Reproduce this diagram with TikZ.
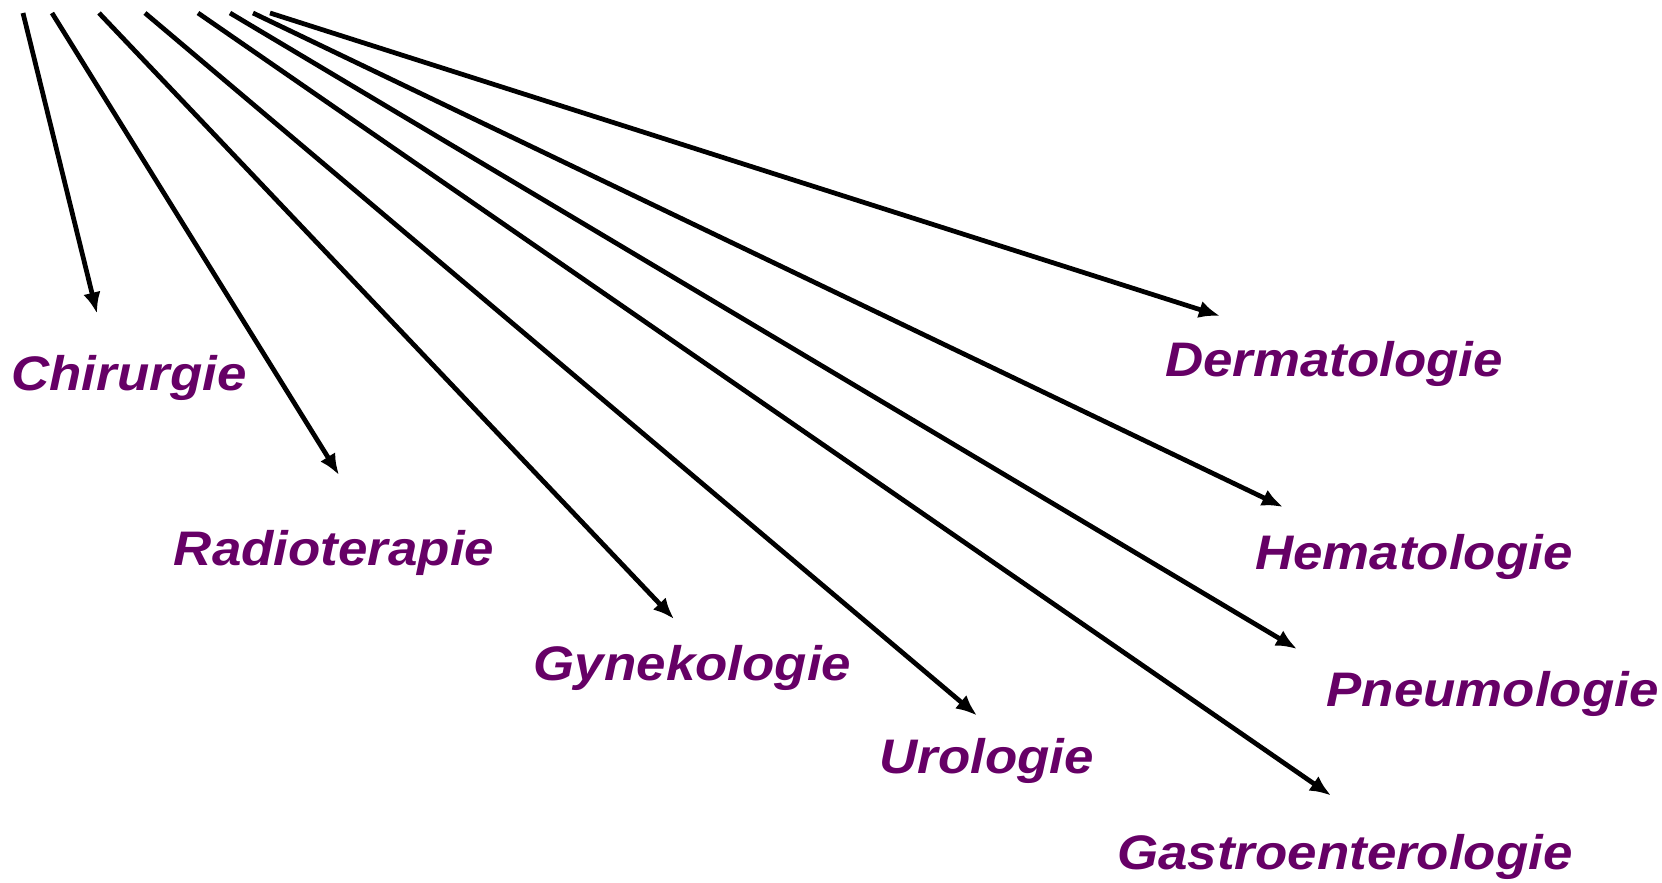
\documentclass[tikz,border=0pt]{standalone}
\usepackage{fontspec}
\usepackage{xcolor}
\usepackage{tikz}
\usetikzlibrary{arrows.meta}
\newfontfamily\deptfont[FakeStretch=1.09]{Liberation Sans}
\definecolor{deptpurple}{HTML}{660066}
\tikzset{
  deptlabel/.style={
    inner sep=0pt, anchor=base, text=deptpurple,
    font=\deptfont\fontsize{13.8pt}{16pt}\selectfont\bfseries\itshape
  },
  deptarrow/.style={-{Latex[length=6pt, width=5pt]}, line width=1.35pt, black},
}

\begin{document}
\begin{tikzpicture}
  \useasboundingbox (0,0) rectangle (16.62,8.82);

  % departments
  \node[deptlabel] (chir)  at (1.29,4.92)  {Chirurgie};
  \node[deptlabel] (radio) at (3.34,3.17)  {Radioterapie};
  \node[deptlabel] (gyn)   at (6.925,2.02) {Gynekologie};
  \node[deptlabel] (uro)   at (9.865,1.09) {Urologie};
  \node[deptlabel] (gastro) at (13.45,0.13) {Gastroenterologie};
  \node[deptlabel] (pneu)  at (14.925,1.76) {Pneumologie};
  \node[deptlabel] (hema)  at (14.14,3.13) {Hematologie};
  \node[deptlabel] (derma) at (13.34,5.06) {Dermatologie};

  % arrow starts along the top
  \coordinate (s1) at (0.23,8.69);
  \coordinate (s2) at (0.52,8.69);
  \coordinate (s3) at (0.99,8.69);
  \coordinate (s4) at (1.45,8.69);
  \coordinate (s5) at (1.98,8.69);
  \coordinate (s6) at (2.30,8.69);
  \coordinate (s7) at (2.53,8.69);
  \coordinate (s8) at (2.70,8.69);

  % arrow tips above the labels
  \coordinate (t1) at (0.97,5.685);
  \coordinate (t2) at (3.39,4.07);
  \coordinate (t3) at (6.74,2.63);
  \coordinate (t4) at (9.77,1.665);
  \coordinate (t5) at (13.31,0.865);
  \coordinate (t6) at (12.97,2.33);
  \coordinate (t7) at (12.83,3.75);
  \coordinate (t8) at (12.20,5.66);

  \draw[deptarrow] (s1) -- (t1);
  \draw[deptarrow] (s2) -- (t2);
  \draw[deptarrow] (s3) -- (t3);
  \draw[deptarrow] (s4) -- (t4);
  \draw[deptarrow] (s5) -- (t5);
  \draw[deptarrow] (s6) -- (t6);
  \draw[deptarrow] (s7) -- (t7);
  \draw[deptarrow] (s8) -- (t8);
\end{tikzpicture}
\end{document}
